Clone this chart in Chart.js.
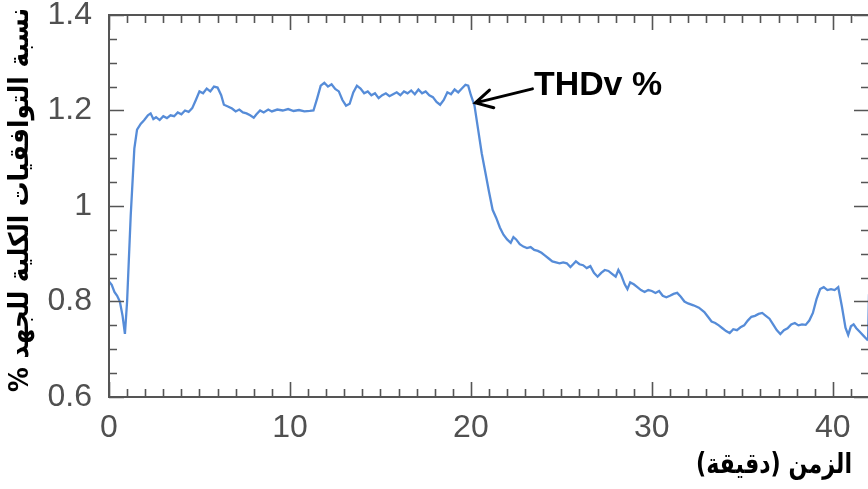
<!DOCTYPE html>
<html>
<head>
<meta charset="utf-8">
<script src="https://cdn.jsdelivr.net/npm/chart.js@4/dist/chart.umd.min.js"></script>
<style>
  html, body { margin: 0; padding: 0; background: #fff; overflow: hidden; }
  #wrap { position: relative; width: 872px; height: 489px; }
</style>
</head>
<body>
<div id="wrap"><canvas id="thd"></canvas></div>
<script>
// Time (minutes) and total voltage harmonic distortion (%)
const timeMin = [
  0.0, 0.15, 0.3, 0.45, 0.6, 0.75, 0.88, 1.0, 1.2, 1.4, 1.55, 1.75, 1.95, 2.15, 2.3, 2.45, 2.6, 2.8,
  3.0, 3.2, 3.4, 3.6, 3.8, 4.0, 4.2, 4.4, 4.6, 4.8, 5.0, 5.2, 5.4, 5.6, 5.8, 6.0, 6.2, 6.35, 6.6, 6.8,
  7.0, 7.2, 7.4, 7.6, 7.8, 8.0, 8.15, 8.35, 8.55, 8.8, 9.0, 9.3, 9.6, 9.9, 10.2, 10.5, 10.8, 11.1, 11.3,
  11.5, 11.7, 11.9, 12.1, 12.3, 12.5, 12.7, 12.9, 13.1, 13.3, 13.5, 13.7, 13.9, 14.1, 14.3, 14.5, 14.7,
  14.9, 15.1, 15.3, 15.5, 15.7, 15.9, 16.1, 16.3, 16.5, 16.7, 16.9, 17.1, 17.3, 17.5, 17.7, 17.9, 18.1,
  18.3, 18.5, 18.7, 18.9, 19.1, 19.3, 19.5, 19.7, 19.85, 20.0, 20.2, 20.4, 20.6, 20.8, 21.0, 21.2, 21.4,
  21.6, 21.8, 22.0, 22.2, 22.35, 22.5, 22.7, 22.9, 23.1, 23.3, 23.5, 23.7, 23.9, 24.1, 24.3, 24.5, 24.7,
  24.9, 25.1, 25.3, 25.5, 25.65, 25.8, 26.0, 26.2, 26.4, 26.6, 26.8, 27.0, 27.2, 27.4, 27.6, 27.8, 28.0,
  28.15, 28.3, 28.5, 28.65, 28.8, 29.0, 29.2, 29.4, 29.6, 29.8, 30.0, 30.2, 30.4, 30.6, 30.8, 31.0, 31.2,
  31.4, 31.6, 31.8, 32.0, 32.3, 32.6, 32.9, 33.1, 33.3, 33.5, 33.7, 33.9, 34.1, 34.3, 34.5, 34.7, 34.9,
  35.1, 35.3, 35.5, 35.7, 35.9, 36.1, 36.3, 36.5, 36.7, 36.9, 37.1, 37.3, 37.5, 37.7, 37.9, 38.1, 38.3,
  38.5, 38.7, 38.9, 39.1, 39.3, 39.5, 39.7, 39.9, 40.1, 40.3, 40.5, 40.7, 40.85, 41.0, 41.15, 41.3, 41.5,
  41.7, 41.9, 41.95, 42.0
];
const thdvPct = [
  0.842, 0.835, 0.820, 0.812, 0.800, 0.770, 0.732, 0.800, 0.980, 1.120, 1.160, 1.172, 1.180, 1.190, 1.194, 1.182, 1.186, 1.180,
  1.188, 1.184, 1.190, 1.188, 1.196, 1.192, 1.200, 1.197, 1.205, 1.222, 1.240, 1.236, 1.246, 1.240, 1.250, 1.248, 1.232, 1.212, 1.208, 1.204,
  1.198, 1.202, 1.196, 1.194, 1.190, 1.185, 1.192, 1.200, 1.196, 1.202, 1.198, 1.202, 1.200, 1.203, 1.199, 1.201, 1.198, 1.199, 1.200,
  1.225, 1.252, 1.258, 1.250, 1.255, 1.245, 1.240, 1.222, 1.210, 1.214, 1.238, 1.252, 1.246, 1.236, 1.240, 1.232, 1.236,
  1.226, 1.232, 1.236, 1.230, 1.234, 1.238, 1.232, 1.240, 1.236, 1.242, 1.234, 1.244, 1.236, 1.240, 1.232, 1.228, 1.218,
  1.212, 1.222, 1.238, 1.234, 1.244, 1.238, 1.246, 1.254, 1.252, 1.232, 1.210, 1.160, 1.110, 1.070, 1.030, 0.992, 0.975,
  0.955, 0.940, 0.930, 0.923, 0.935, 0.930, 0.920, 0.915, 0.912, 0.914, 0.908, 0.906, 0.902, 0.896, 0.890, 0.884, 0.882,
  0.880, 0.882, 0.880, 0.872, 0.878, 0.884, 0.878, 0.876, 0.870, 0.874, 0.860, 0.852, 0.860, 0.866, 0.864, 0.858, 0.852,
  0.866, 0.856, 0.836, 0.826, 0.840, 0.836, 0.830, 0.824, 0.820, 0.824, 0.822, 0.818, 0.822, 0.812, 0.809, 0.812, 0.816,
  0.818, 0.810, 0.800, 0.796, 0.792, 0.787, 0.778, 0.768, 0.758, 0.755, 0.750, 0.744, 0.738, 0.734, 0.742, 0.740, 0.746,
  0.750, 0.760, 0.768, 0.770, 0.774, 0.776, 0.770, 0.764, 0.752, 0.740, 0.732, 0.740, 0.744, 0.752, 0.755, 0.750, 0.752,
  0.751, 0.760, 0.776, 0.805, 0.826, 0.830, 0.824, 0.826, 0.824, 0.830, 0.790, 0.745, 0.730, 0.748, 0.752, 0.744, 0.736,
  0.728, 0.720, 0.722, 0.815
];

// Axis ticks
const xTickValues = [0, 10, 20, 30, 40];
const xTickLabels = ['0', '10', '20', '30', '40'];
const yTickValues = [0.6, 0.8, 1.0, 1.2, 1.4];
const yTickLabels = ['0.6', '0.8', '1', '1.2', '1.4'];

// Text
const xTitle = 'الزمن (دقيقة)';
const yTitle = 'نسبة التوافقيات الكلية للجهد %';
const seriesLabel = 'THDv %';
// Point of the curve the label arrow points at
const arrowTarget = { x: 20.25, y: 1.216 };

const points = timeMin.map((t, i) => ({ x: t, y: thdvPct[i] }));

const frameColor = '#555555';

// Draws text horizontally squeezed/stretched so it spans the given width
function fitText(ctx, text, cx, cy, width) {
  const w = ctx.measureText(text).width;
  ctx.save();
  ctx.translate(cx, cy);
  ctx.scale(width / w, 1);
  ctx.fillText(text, 0, 0);
  ctx.restore();
}

// Boxed frame with inward major/minor ticks on all four sides, plus titles and label arrow
const framePlugin = {
  id: 'frameAndNotes',
  afterDraw(chart) {
    const { ctx, chartArea: a, scales: { x, y } } = chart;
    ctx.save();
    ctx.strokeStyle = frameColor;
    ctx.lineWidth = 2;
    ctx.strokeRect(a.left, a.top, a.right - a.left, a.bottom - a.top);

    ctx.lineWidth = 1.6;
    ctx.beginPath();
    for (let v = 0; v <= 42; v += 1) {
      const px = Math.round(x.getPixelForValue(v)) + 0.5;
      const len = v % 10 === 0 ? 15 : 8;
      ctx.moveTo(px, a.bottom); ctx.lineTo(px, a.bottom - len);
      ctx.moveTo(px, a.top); ctx.lineTo(px, a.top + len);
    }
    for (let k = 0; k <= 16; k++) {
      const v = 0.6 + k * 0.05;
      const py = Math.round(y.getPixelForValue(v)) + 0.5;
      const len = k % 4 === 0 ? 15 : 8;
      ctx.moveTo(a.left, py); ctx.lineTo(a.left + len, py);
      ctx.moveTo(a.right, py); ctx.lineTo(a.right - len, py);
    }
    ctx.stroke();

    // Series label with arrow
    const tx = x.getPixelForValue(arrowTarget.x);
    const ty = y.getPixelForValue(arrowTarget.y);
    const sx = tx + 57, sy = ty - 14;
    ctx.strokeStyle = '#000';
    ctx.lineWidth = 3;
    ctx.lineCap = 'round';
    ctx.beginPath();
    ctx.moveTo(sx, sy); ctx.lineTo(tx, ty);
    const ang = Math.atan2(sy - ty, sx - tx);
    const head = 19, spread = 0.5;
    ctx.moveTo(tx + head * Math.cos(ang + spread), ty + head * Math.sin(ang + spread));
    ctx.lineTo(tx, ty);
    ctx.lineTo(tx + head * Math.cos(ang - spread), ty + head * Math.sin(ang - spread));
    ctx.stroke();

    ctx.fillStyle = '#000';
    ctx.font = 'bold 34px "Liberation Sans", Arial, sans-serif';
    ctx.textAlign = 'left';
    ctx.textBaseline = 'alphabetic';
    fitText(ctx, seriesLabel, 534, 95, 128);

    // Axis titles (Arabic, right-to-left)
    ctx.direction = 'rtl';
    ctx.textAlign = 'center';
    ctx.textBaseline = 'middle';
    ctx.font = 'bold 28px "DejaVu Sans", sans-serif';
    fitText(ctx, xTitle, 774, 466, 156);

    ctx.translate(21, 200);
    ctx.rotate(-Math.PI / 2);
    ctx.font = 'bold 27px "DejaVu Sans", sans-serif';
    fitText(ctx, yTitle, 0, 0, 384);
    ctx.restore();
  }
};

new Chart(document.getElementById('thd'), {
  type: 'line',
  data: {
    datasets: [{
      label: seriesLabel,
      data: points,
      borderColor: 'rgb(86,140,216)',
      borderWidth: 2.3,
      pointRadius: 0,
      tension: 0,
      fill: false
    }]
  },
  options: {
    responsive: true,
    maintainAspectRatio: false,
    animation: false,
    events: [],
    layout: { autoPadding: false, padding: { top: 15, right: 3, bottom: 0, left: 0 } },
    plugins: { legend: { display: false }, tooltip: { enabled: false }, title: { display: false } },
    scales: {
      x: {
        type: 'linear',
        min: 0,
        max: 42,
        grid: { display: false },
        border: { display: false },
        afterBuildTicks(scale) { scale.ticks = xTickValues.map(v => ({ value: v })); },
        afterFit(scale) { scale.height = 92; scale.paddingLeft = 0; scale.paddingRight = 0; },
        ticks: {
          padding: 4,
          color: '#505050',
          font: { family: '"Liberation Sans", Arial, sans-serif', size: 32 },
          maxRotation: 0,
          callback: (v) => xTickLabels[xTickValues.indexOf(v)]
        }
      },
      y: {
        type: 'linear',
        min: 0.6,
        max: 1.4,
        grid: { display: false },
        border: { display: false },
        afterBuildTicks(scale) { scale.ticks = yTickValues.map(v => ({ value: v })); },
        afterFit(scale) { scale.width = 109; scale.paddingTop = 0; scale.paddingBottom = 0; },
        ticks: {
          padding: 9,
          color: '#505050',
          font: { family: '"Liberation Sans", Arial, sans-serif', size: 32 },
          callback: (v) => yTickLabels[yTickValues.indexOf(v)]
        }
      }
    }
  },
  plugins: [framePlugin]
});
</script>
</body>
</html>
